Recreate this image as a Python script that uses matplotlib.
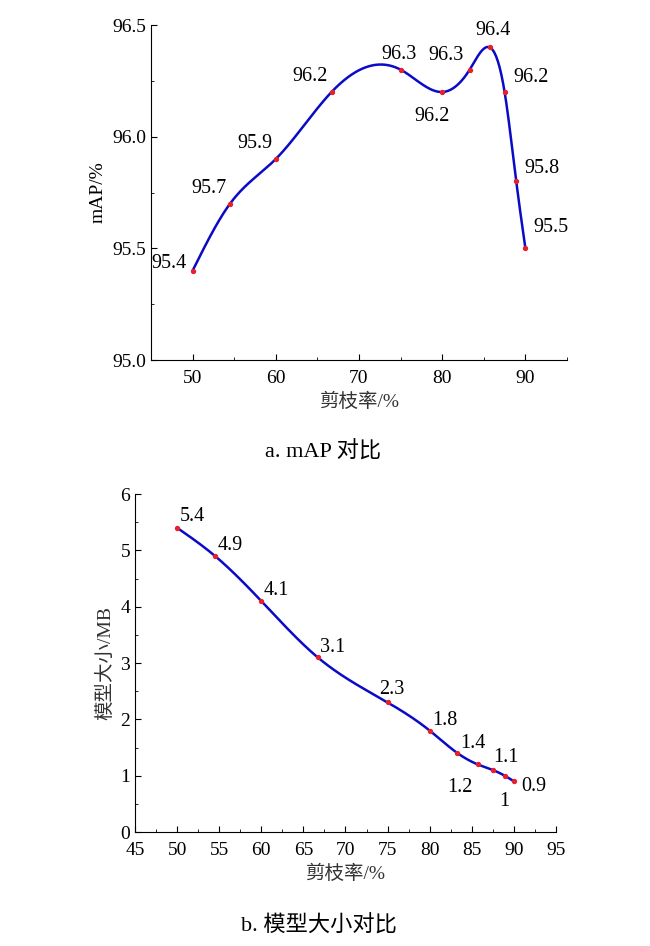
import numpy as np
import matplotlib.pyplot as plt
from matplotlib.ticker import MultipleLocator

plt.rcParams['font.family'] = ['Liberation Serif', 'Noto Sans CJK SC']
plt.rcParams['font.size'] = 14

rate = [50, 54.5, 60, 66.7, 75, 80, 83.3, 85.7, 87.5, 88.9, 90]
map_val = [95.4, 95.7, 95.9, 96.2, 96.3, 96.2, 96.3, 96.4, 96.2, 95.8, 95.5]
size_val = [5.4, 4.9, 4.1, 3.1, 2.3, 1.8, 1.4, 1.2, 1.1, 1.0, 0.9]
size_txt = ['5.4', '4.9', '4.1', '3.1', '2.3', '1.8', '1.4', '1.2', '1.1', '1', '0.9']

# label offsets in points
map_off = [(-30, 2), (-28, 8), (-28, 8), (-28, 8), (-14, 8), (-20, -21), (-30, 7),
           (-10, 9), (6, 7), (6, 6), (6, 12)]
size_off = [(2, 5), (2, 4), (2, 4), (2, 4), (-6, 6), (2, 4), (2, 4), (-22, -20),
            (0, 6), (-4, -22), (5, -7)]


def spline(x, y, n=400):
    # natural cubic spline through the points
    x = np.asarray(x, float)
    y = np.asarray(y, float)
    k = len(x)
    h = np.diff(x)
    A = np.zeros((k, k))
    b = np.zeros(k)
    A[0, 0] = A[-1, -1] = 1
    for i in range(1, k - 1):
        A[i, i - 1] = h[i - 1]
        A[i, i] = 2 * (h[i - 1] + h[i])
        A[i, i + 1] = h[i]
        b[i] = 6 * ((y[i + 1] - y[i]) / h[i] - (y[i] - y[i - 1]) / h[i - 1])
    m = np.linalg.solve(A, b)
    xs = np.linspace(x[0], x[-1], n)
    j = np.clip(np.searchsorted(x, xs) - 1, 0, k - 2)
    t = xs - x[j]
    hj = h[j]
    ys = (m[j] * (x[j + 1] - xs) ** 3 / (6 * hj) + m[j + 1] * t ** 3 / (6 * hj)
          + (y[j] / hj - m[j] * hj / 6) * (x[j + 1] - xs)
          + (y[j + 1] / hj - m[j + 1] * hj / 6) * t)
    return xs, ys


fig = plt.figure(figsize=(6.5, 9.46), dpi=100)
ax1 = fig.add_axes([151 / 650, 1 - 360 / 946, 416 / 650, 335 / 946])
ax2 = fig.add_axes([135 / 650, 1 - 832 / 946, 421 / 650, 338 / 946])

for ax, y, txt, off in [(ax1, map_val, ['%.1f' % v for v in map_val], map_off),
                        (ax2, size_val, size_txt, size_off)]:
    xs, ys = spline(rate, y)
    ax.plot(xs, ys, color='#0a0ac8', lw=1.8, zorder=2)
    ax.scatter(rate, y, s=8, color='#e8202a', zorder=3)
    for xi, yi, t, o in zip(rate, y, txt, off):
        ax.annotate(t, (xi, yi), xytext=o, textcoords='offset points', fontsize=14.5)
    ax.spines['top'].set_visible(False)
    ax.spines['right'].set_visible(False)
    ax.tick_params(which='both', direction='in', labelsize=14)
    ax.tick_params(which='major', length=4)
    ax.tick_params(which='minor', length=2.5)
    ax.tick_params(axis='x', pad=7)
    ax.set_xlim(45, 95)
    ax.set_xlabel('剪枝率/%', fontsize=14, color='#333333')

ax1.set_ylim(95.0, 96.5)
ax1.set_xticks([50, 60, 70, 80, 90])
ax1.xaxis.set_minor_locator(MultipleLocator(5))
ax1.yaxis.set_major_locator(MultipleLocator(0.5))
ax1.yaxis.set_minor_locator(MultipleLocator(0.25))
ax1.yaxis.set_major_formatter(plt.FormatStrFormatter('%.1f'))
ax1.set_ylabel('mAP/%')

ax2.set_ylim(0, 6)
ax2.xaxis.set_major_locator(MultipleLocator(5))
ax2.xaxis.set_minor_locator(MultipleLocator(2.5))
ax2.yaxis.set_major_locator(MultipleLocator(1))
ax2.yaxis.set_minor_locator(MultipleLocator(0.5))
ax2.set_ylabel('模型大小/MB', color='#333333')

fig.text(0.497, 1 - 452 / 946, 'a. mAP 对比', ha='center', va='center', fontsize=16)
fig.text(0.49, 1 - 926 / 946, 'b. 模型大小对比', ha='center', va='center', fontsize=16)

fig.savefig('out.png', dpi=100)
